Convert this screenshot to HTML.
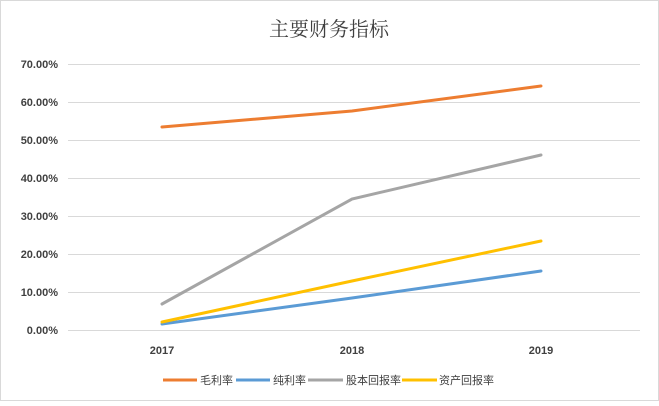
<!DOCTYPE html><html><head><meta charset="utf-8"><style>
body{margin:0;background:#fff}
svg text{font-family:"Liberation Sans","Noto Sans CJK SC",sans-serif}
</style></head><body>
<svg width="659" height="401" xmlns="http://www.w3.org/2000/svg">
<rect x="0.5" y="0.5" width="658" height="400" fill="#fff" stroke="#d9d9d9"/>
<text x="329" y="36" text-anchor="middle" font-size="20" fill="#404040" style="font-family:'Liberation Serif','Noto Serif CJK SC',serif">主要财务指标</text>
<g stroke="#d9d9d9" stroke-width="1">
<line x1="68" x2="640" y1="64.5" y2="64.5"/><line x1="68" x2="640" y1="102.5" y2="102.5"/>
<line x1="68" x2="640" y1="140.5" y2="140.5"/><line x1="68" x2="640" y1="178.5" y2="178.5"/>
<line x1="68" x2="640" y1="216.5" y2="216.5"/><line x1="68" x2="640" y1="254.5" y2="254.5"/>
<line x1="68" x2="640" y1="292.5" y2="292.5"/><line x1="68" x2="640" y1="330.5" y2="330.5"/>
</g>
<g font-size="11" fill="#404040" text-anchor="end" font-weight="bold">
<text x="58" y="68">70.00%</text><text x="58" y="106">60.00%</text><text x="58" y="144">50.00%</text>
<text x="58" y="182">40.00%</text><text x="58" y="220">30.00%</text><text x="58" y="258">20.00%</text>
<text x="58" y="296">10.00%</text><text x="58" y="334">0.00%</text>
</g>
<g font-size="11" fill="#404040" text-anchor="middle" font-weight="bold">
<text x="162" y="354">2017</text><text x="352" y="354">2018</text><text x="541" y="354">2019</text>
</g>
<g fill="none" stroke-width="3" stroke-linecap="round">
<polyline stroke="#ED7D31" points="162,127 352,111 541,86"/>
<polyline stroke="#5B9BD5" points="162,324 352,298 541,271"/>
<polyline stroke="#A5A5A5" points="162,304 352,199 541,155"/>
<polyline stroke="#FFC000" points="162,322 352,281 541,241"/>
</g>
<g stroke-width="3">
<line x1="163" x2="197" y1="380" y2="380" stroke="#ED7D31"/>
<line x1="236" x2="270" y1="380" y2="380" stroke="#5B9BD5"/>
<line x1="308" x2="343" y1="380" y2="380" stroke="#A5A5A5"/>
<line x1="402" x2="437" y1="380" y2="380" stroke="#FFC000"/>
</g>
<g font-size="11" fill="#404040">
<text x="200" y="384">毛利率</text><text x="273" y="384">纯利率</text>
<text x="346" y="384">股本回报率</text><text x="439" y="384">资产回报率</text>
</g>
</svg></body></html>
